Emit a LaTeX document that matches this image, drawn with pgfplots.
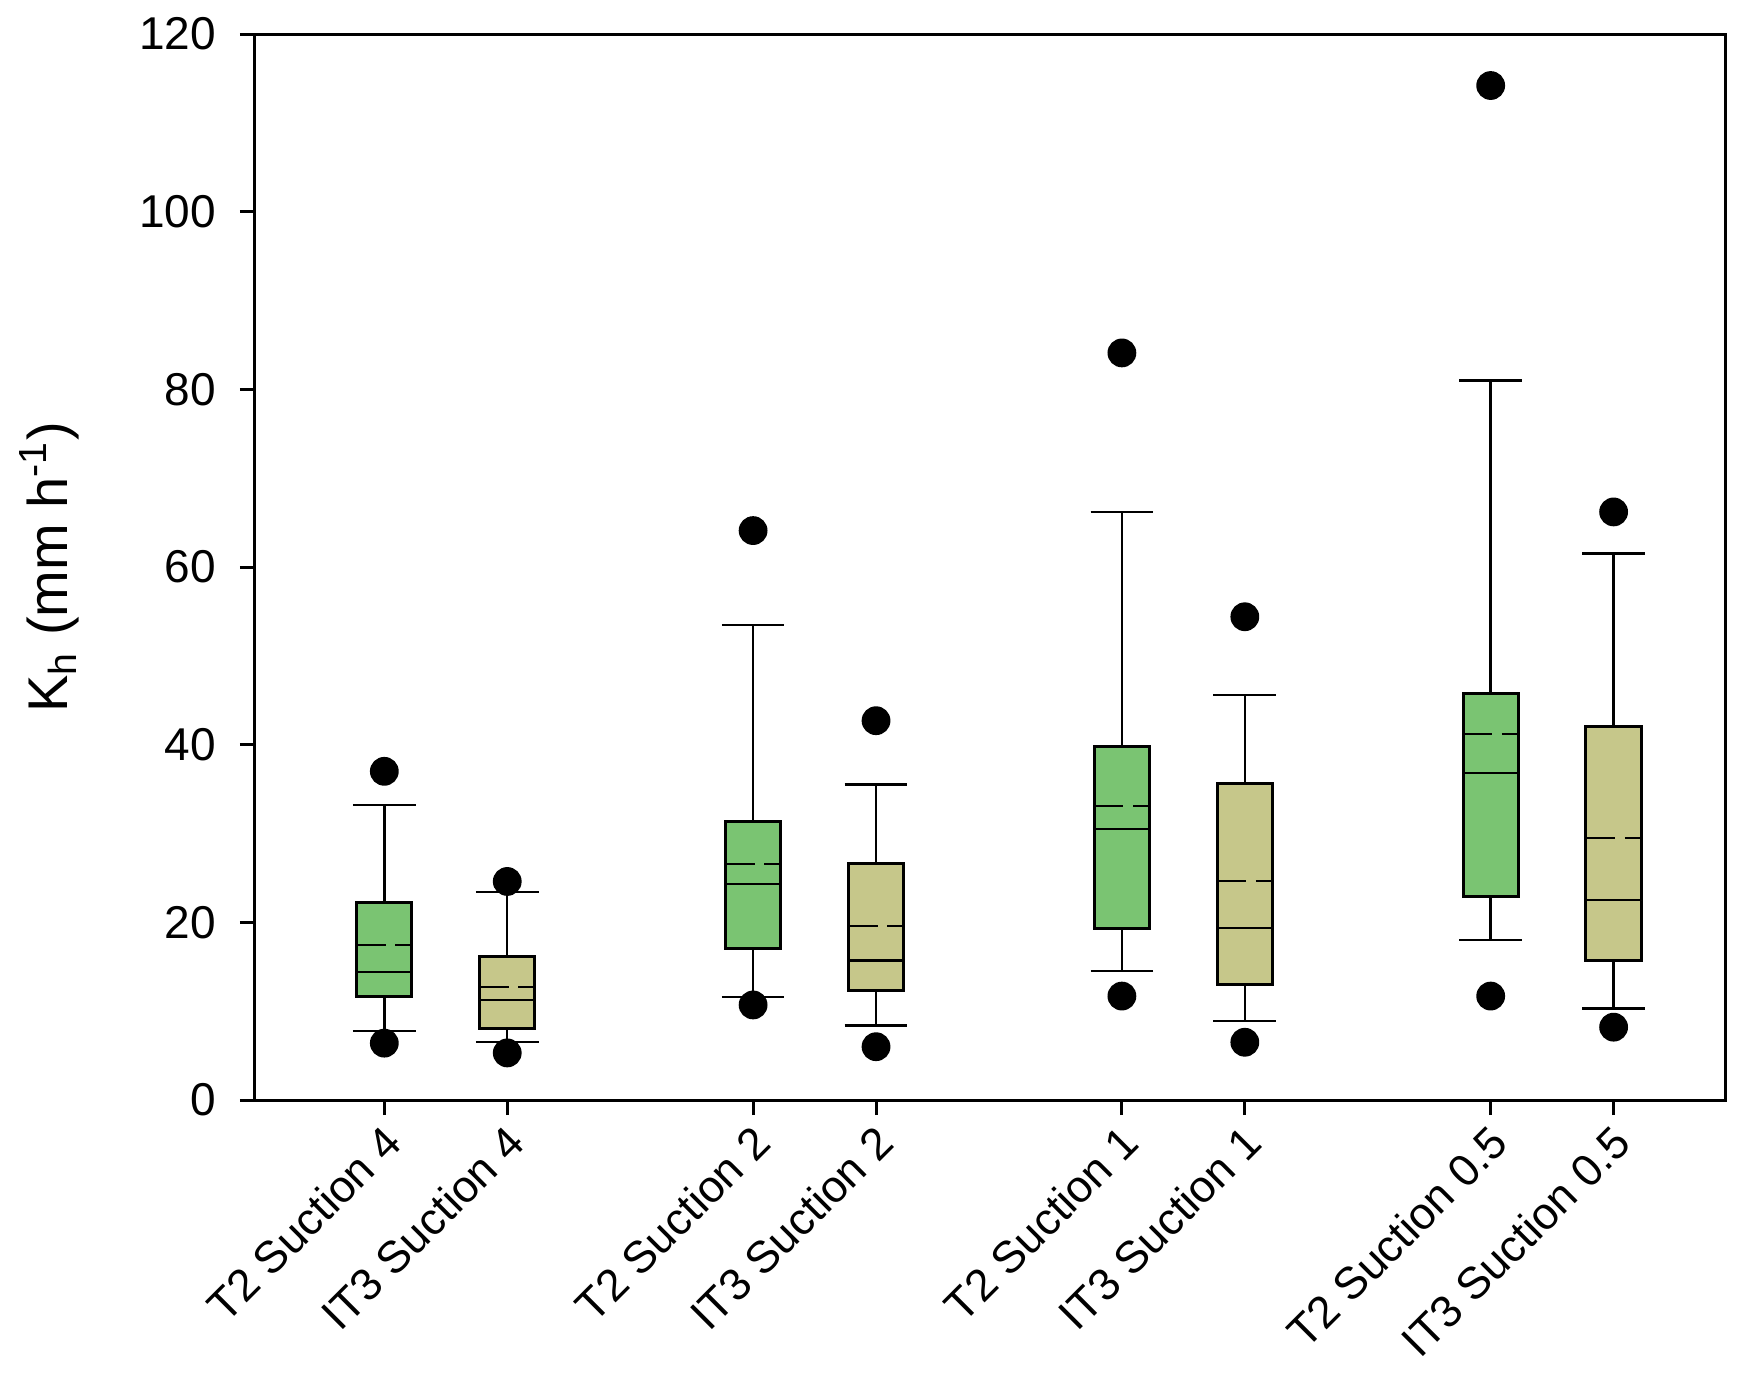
\documentclass[border=0pt]{standalone}
\usepackage{fontspec}
\setmainfont{Liberation Sans}
\usepackage{pgfplots}
\pgfplotsset{compat=1.18}
\usepgfplotslibrary{statistics}

\definecolor{boxgreen}{RGB}{122,196,114}
\definecolor{boxkhaki}{RGB}{198,199,138}

\pgfplotsset{
  kbox/.style={
    draw=black, line width=0.75pt,
    boxplot/every whisker/.style={line width=0.6pt},
    boxplot/every median/.style={line width=0.55pt},
  },
  meanline/.style={black, line width=0.5pt, dash pattern=on 7.3pt off 2.4pt on 10pt off 0pt},
}

\begin{document}
\begin{tikzpicture}
\begin{axis}[
  scale only axis,
  width=367.5pt, height=266.5pt,
  xmin=-1.052, xmax=10.906,
  ymin=0, ymax=120,
  ytick={0,20,40,60,80,100,120},
  xtick={0,1,3,4,6,7,9,10},
  xticklabels={T2 Suction 4, IT3 Suction 4, T2 Suction 2, IT3 Suction 2,
               T2 Suction 1, IT3 Suction 1, T2 Suction 0.5, IT3 Suction 0.5},
  tick align=outside,
  xtick pos=bottom, ytick pos=left,
  major tick length=3.75pt,
  axis line style={line width=0.75pt},
  every tick/.style={black, line width=0.75pt},
  tick label style={font=\fontsize{11.5}{13}\selectfont},
  x tick label style={font=\fontsize{11.2}{13}\selectfont, rotate=45, anchor=east, xshift=1.5pt, yshift=-5pt},
  y tick label style={xshift=-2.5pt},
  /pgf/number format/assume math mode=true,
  ylabel={K\textsubscript{h} (mm h\textsuperscript{-1})},
  ylabel style={font=\fontsize{14}{16}\selectfont, at={(axis description cs:-0.110,0.5)}, anchor=south, rotate=0},
  boxplot/draw direction=y,
  boxplot/box extend=0.45,
  boxplot/whisker extend=0.51,
]

% T2 Suction 4
\addplot[kbox, fill=boxgreen, boxplot prepared={draw position=0,
  lower whisker=7.8, lower quartile=11.6, median=14.4,
  upper quartile=22.2, upper whisker=33.2}] coordinates {};
% IT3 Suction 4
\addplot[kbox, fill=boxkhaki, boxplot prepared={draw position=1,
  lower whisker=6.5, lower quartile=8.1, median=11.3,
  upper quartile=16.2, upper whisker=23.4}] coordinates {};
% T2 Suction 2
\addplot[kbox, fill=boxgreen, boxplot prepared={draw position=3,
  lower whisker=11.6, lower quartile=17.1, median=24.3,
  upper quartile=31.4, upper whisker=53.5}] coordinates {};
% IT3 Suction 2
\addplot[kbox, fill=boxkhaki, boxplot prepared={draw position=4,
  lower whisker=8.4, lower quartile=12.3, median=15.7,
  upper quartile=26.6, upper whisker=35.5}] coordinates {};
% T2 Suction 1
\addplot[kbox, fill=boxgreen, boxplot prepared={draw position=6,
  lower whisker=14.5, lower quartile=19.3, median=30.5,
  upper quartile=39.8, upper whisker=66.2}] coordinates {};
% IT3 Suction 1
\addplot[kbox, fill=boxkhaki, boxplot prepared={draw position=7,
  lower whisker=8.9, lower quartile=13.0, median=19.4,
  upper quartile=35.6, upper whisker=45.6}] coordinates {};
% T2 Suction 0.5
\addplot[kbox, fill=boxgreen, boxplot prepared={draw position=9,
  lower whisker=18.0, lower quartile=22.9, median=36.8,
  upper quartile=45.8, upper whisker=81.0}] coordinates {};
% IT3 Suction 0.5
\addplot[kbox, fill=boxkhaki, boxplot prepared={draw position=10,
  lower whisker=10.3, lower quartile=15.7, median=22.5,
  upper quartile=42.1, upper whisker=61.5}] coordinates {};

% means (dashed lines)
\addplot[meanline] coordinates {(-0.225,17.5) (0.225,17.5)};
\addplot[meanline] coordinates {(0.775,12.7) (1.225,12.7)};
\addplot[meanline] coordinates {(2.775,26.6) (3.225,26.6)};
\addplot[meanline] coordinates {(3.775,19.6) (4.225,19.6)};
\addplot[meanline] coordinates {(5.775,33.1) (6.225,33.1)};
\addplot[meanline] coordinates {(6.775,24.7) (7.225,24.7)};
\addplot[meanline] coordinates {(8.775,41.2) (9.225,41.2)};
\addplot[meanline] coordinates {(9.775,29.5) (10.225,29.5)};

% outliers
\addplot[only marks, mark=*, mark size=3.4pt, black] coordinates {
  (0,37.0) (0,6.4)
  (1,24.6) (1,5.3)
  (3,64.1) (3,10.7)
  (4,42.7) (4,6.0)
  (6,84.1) (6,11.7)
  (7,54.4) (7,6.5)
  (9,114.2) (9,11.7)
  (10,66.2) (10,8.2)
};
\end{axis}
\pgfresetboundingbox
\useasboundingbox ([shift={(-63.75pt,-71pt)}]current axis.south west)
  rectangle ([shift={(6pt,8.5pt)}]current axis.north east);
\end{tikzpicture}
\end{document}
